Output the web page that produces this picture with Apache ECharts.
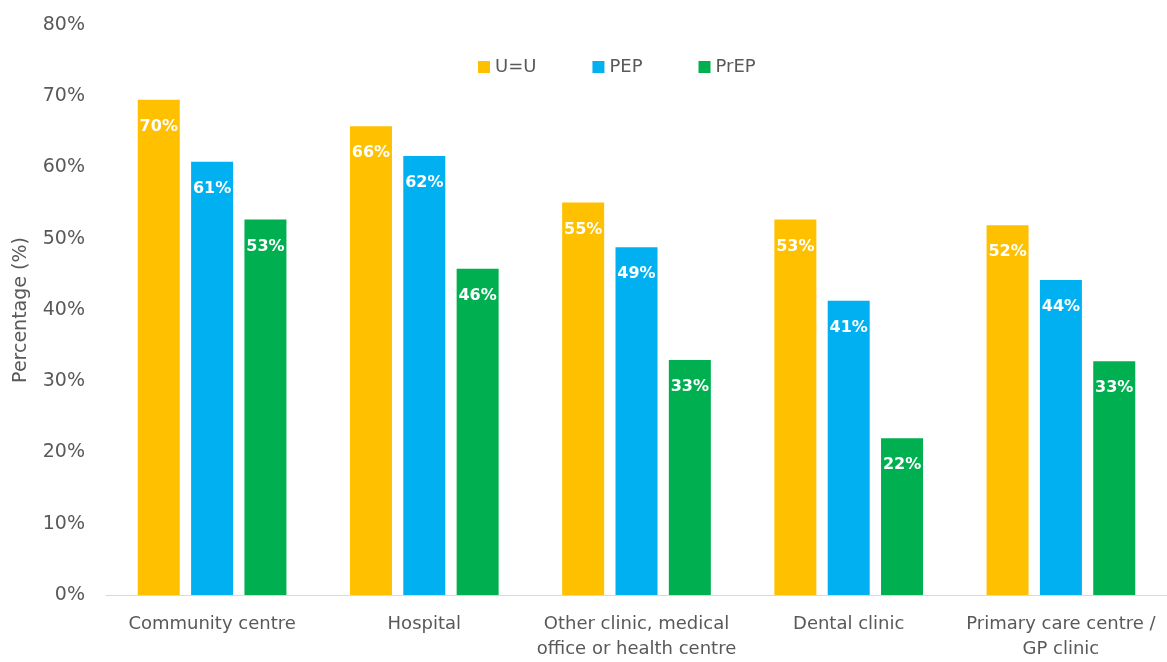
<!DOCTYPE html>
<html><head><meta charset="utf-8">
<script src="https://cdn.jsdelivr.net/npm/echarts@6/dist/echarts.min.js"></script>
<style>html,body{margin:0;padding:0;background:#fff}#c{width:1167px;height:662px}</style>
</head><body><div id="c"></div>
<script>
const categories = ["Community centre", "Hospital", "Other clinic, medical\noffice or health centre", "Dental clinic", "Primary care centre /\nGP clinic"];
const seriesNames = ["U=U", "PEP", "PrEP"];
const uu = [69.5, 65.8, 55.1, 52.7, 51.9];
const pep = [60.8, 61.6, 48.8, 41.3, 44.2];
const prep = [52.7, 45.8, 33.0, 22.0, 32.8];
const yTicks = [0, 10, 20, 30, 40, 50, 60, 70, 80];
const colors = ["#FFC000", "#00B0F0", "#00B050"];
const FONT = "DejaVu Sans";
const chart = echarts.init(document.getElementById('c'));
const mk = (name, data, i) => ({
  name, type: 'bar', data, barWidth: 42, barGap: '27%',
  itemStyle: {color: colors[i]},
  label: {show: true, position: 'insideTop', distance: 19, color: '#fff', fontWeight: 'bold', fontSize: 16, fontFamily: FONT,
    formatter: p => Math.round(p.value) + '%'}
});
chart.setOption({
  animation: false,
  textStyle: {fontFamily: FONT},
  legend: {top: 53, left: 473, itemWidth: 12, itemHeight: 12, itemGap: 56, icon: 'rect',
    textStyle: {fontSize: 18, color: '#595959', fontFamily: FONT, padding: [0, 0, 0, 0]}, data: seriesNames},
  grid: {left: 106, top: 25, width: 1072, height: 575, containLabel: false},
  xAxis: {type: 'category', data: categories,
    axisLine: {lineStyle: {color: '#d9d9d9', width: 1}}, axisTick: {show: false},
    axisLabel: {fontSize: 18, color: '#595959', margin: 17, lineHeight: 25, fontFamily: FONT, interval: 0}},
  yAxis: {type: 'value', min: yTicks[0], max: yTicks[yTicks.length-1], interval: 10,
    name: 'Percentage (%)', nameLocation: 'middle', nameGap: 75, nameRotate: 90,
    nameTextStyle: {fontSize: 19, color: '#595959', fontFamily: FONT},
    axisLine: {show: false}, axisTick: {show: false}, splitLine: {show: false},
    axisLabel: {fontSize: 19, color: '#595959', margin: 21, formatter: v => v + '%', fontFamily: FONT}},
  series: [mk(seriesNames[0], uu, 0), mk(seriesNames[1], pep, 1), mk(seriesNames[2], prep, 2)]
});
</script></body></html>
